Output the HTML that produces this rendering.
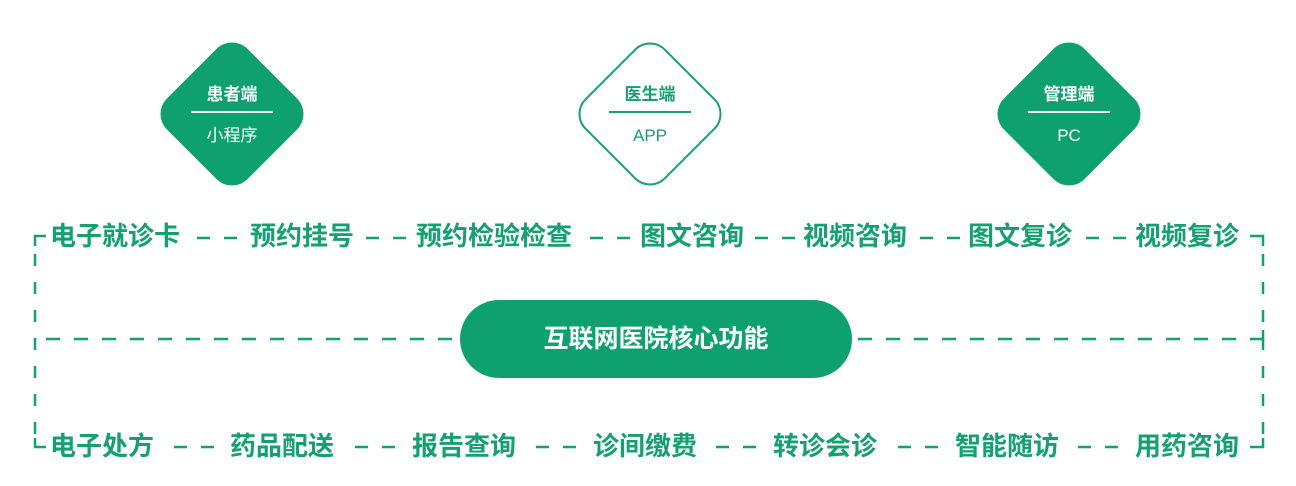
<!DOCTYPE html>
<html><head><meta charset="utf-8"><style>
body{margin:0;width:1296px;height:486px;background:#fff;position:relative;overflow:hidden;font-family:"Liberation Sans","Noto Sans CJK SC",sans-serif}
.t{position:absolute;color:#14a071;font-size:26px;font-weight:bold;line-height:30px;white-space:nowrap}
.d{position:absolute;width:114px;height:114px;border-radius:22px;transform:rotate(45deg)}
.lab{position:absolute;text-align:center;width:100px;line-height:22px}
</style></head><body>
<svg width="1296" height="486" style="position:absolute;left:0;top:0">
<g stroke="#14a071" stroke-width="2.5" fill="none">
<path d="M197 238H210M224 238H237 M366 238H379M393 238H406 M590 238H603M617 238H630 M755 238H768M782 238H795 M920 238H933M947 238H960 M1086 238H1099M1113 238H1126"/>
<path d="M174 447H187M201 447H214 M355 447H368M382 447H395 M536 447H549M563 447H576 M716 447H729M743 447H756 M898 447H911M925 447H938 M1078 447H1091M1105 447H1118"/>
<line x1="46" y1="339" x2="455" y2="339" stroke-dasharray="14,14"/>
<line x1="858" y1="339" x2="1252" y2="339" stroke-dasharray="14,14"/>
<line x1="35" y1="254" x2="35" y2="436" stroke-dasharray="12,16"/>
<line x1="1263" y1="254" x2="1263" y2="436" stroke-dasharray="12,16"/>
<polyline points="35,246 35,236 46,236"/>
<polyline points="35,438 35,447 46,447"/>
<polyline points="1250,236 1263,236 1263,246"/>
<polyline points="1250,447 1263,447 1263,438"/>
<polyline points="1250,339 1263,339 1263,330"/>
</g>
</svg>
<div class="d" style="left:175px;top:57px;background:#0fa070"></div>
<div class="d" style="left:593px;top:57px;background:#fff;border:2px solid #14a071;box-sizing:border-box"></div>
<div class="d" style="left:1012px;top:57px;background:#0fa070"></div>
<div class="lab" style="left:182px;top:84px;color:#fff;font-weight:bold;font-size:17px">患者端</div>
<div style="position:absolute;left:191px;top:111px;width:82px;height:2px;background:#fff"></div>
<div class="lab" style="left:182px;top:125px;color:#fff;font-size:17px">小程序</div>
<div class="lab" style="left:600px;top:84px;color:#14a071;font-weight:bold;font-size:17px">医生端</div>
<div style="position:absolute;left:609px;top:111px;width:82px;height:2px;background:#14a071"></div>
<div class="lab" style="left:600px;top:125px;color:#14a071;font-size:17px">APP</div>
<div class="lab" style="left:1019px;top:84px;color:#fff;font-weight:bold;font-size:17px">管理端</div>
<div style="position:absolute;left:1028px;top:111px;width:82px;height:2px;background:#fff"></div>
<div class="lab" style="left:1019px;top:125px;color:#fff;font-size:17px">PC</div>

<div style="position:absolute;left:460px;top:300px;width:392px;height:78px;border-radius:39px;background:#0fa070;color:#fff;font-size:25px;font-weight:bold;text-align:center;line-height:78px">互联网医院核心功能</div>

<span class="t" style="left:50px;top:221px">电子就诊卡</span>
<span class="t" style="left:250px;top:221px">预约挂号</span>
<span class="t" style="left:416px;top:221px">预约检验检查</span>
<span class="t" style="left:640px;top:221px">图文咨询</span>
<span class="t" style="left:803px;top:221px">视频咨询</span>
<span class="t" style="left:968px;top:221px">图文复诊</span>
<span class="t" style="left:1135px;top:221px">视频复诊</span>

<span class="t" style="left:50px;top:431px">电子处方</span>
<span class="t" style="left:230px;top:431px">药品配送</span>
<span class="t" style="left:412px;top:431px">报告查询</span>
<span class="t" style="left:593px;top:431px">诊间缴费</span>
<span class="t" style="left:773px;top:431px">转诊会诊</span>
<span class="t" style="left:955px;top:431px">智能随访</span>
<span class="t" style="left:1135px;top:431px">用药咨询</span>
</body></html>
